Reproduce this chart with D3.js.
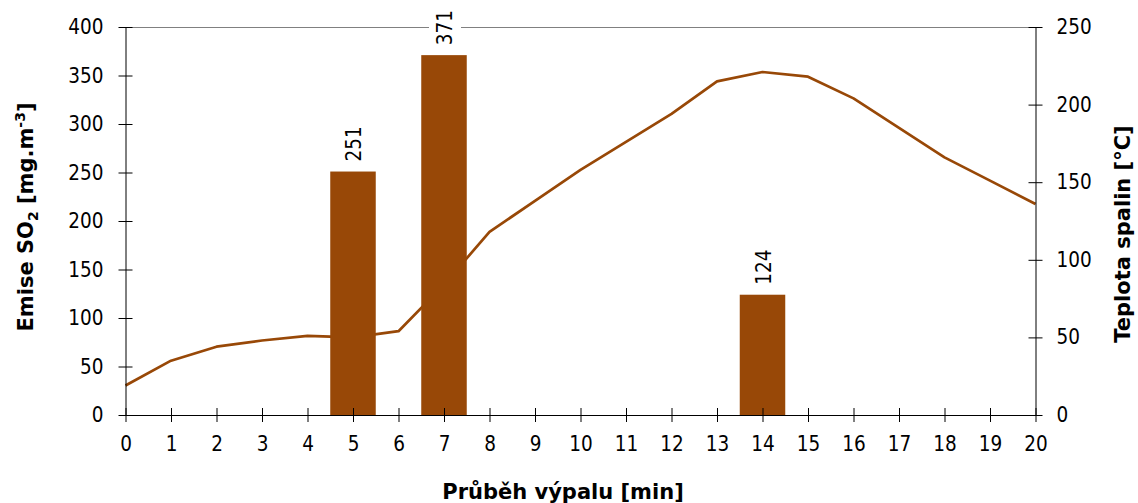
<!DOCTYPE html>
<html>
<head>
<meta charset="utf-8">
<script src="https://cdn.jsdelivr.net/npm/d3@7"></script>
<style>
  body { margin: 0; background: #fff; }
  svg text { font-family: "DejaVu Sans Condensed", "DejaVu Sans", Verdana, sans-serif; }
  svg text.title { font-family: "DejaVu Sans", Verdana, sans-serif; font-weight: bold; }
</style>
</head>
<body>
<svg id="chart"></svg>
<script>
// time axis [min]
const minutes = [0, 1, 2, 3, 4, 5, 6, 7, 8, 9, 10, 11, 12, 13, 14, 15, 16, 17, 18, 19, 20];
// flue gas temperature [°C] (right axis)
const temperature = [19, 35, 44, 48, 51, 50, 54, 84, 118, 138, 158, 176, 194, 215, 221, 218, 204, 185, 166, 151, 136];
// SO2 emission samples [mg.m-3] (left axis)
const emissionMin = [5, 7, 14];
const emission = [251, 371, 124];
const leftTicks = [0, 50, 100, 150, 200, 250, 300, 350, 400];
const rightTicks = [0, 50, 100, 150, 200, 250];

const width = 1138, height = 503;
const brown = '#984807';
const fs = 20.5;   // tick + data labels
const tfs = 21;    // axis titles

const svg = d3.select('#chart').attr('width', width).attr('height', height);

const x = d3.scaleLinear().domain([0, 20]).range([125.5, 1035.5]);
const yL = d3.scaleLinear().domain([0, 400]).range([415, 27]);
const yR = d3.scaleLinear().domain([0, 250]).range([415, 27]);
const barW = x(1) - x(0);

// top border of the plot area
svg.append('line')
    .attr('x1', x(0)).attr('x2', x(20))
    .attr('y1', yL(400) + 0.5).attr('y2', yL(400) + 0.5)
    .attr('stroke', '#808080');

// temperature line
svg.append('path')
    .datum(minutes)
    .attr('fill', 'none')
    .attr('stroke', brown)
    .attr('stroke-width', 2.7)
    .attr('stroke-linejoin', 'round')
    .attr('d', d3.line().x(d => x(d)).y((d, i) => yR(temperature[i])));

// emission bars (drawn over the line like in the original)
svg.append('g')
    .selectAll('rect')
    .data(emission)
    .join('rect')
      .attr('x', (d, i) => x(emissionMin[i]) - barW / 2)
      .attr('width', barW)
      .attr('y', d => yL(d))
      .attr('height', d => yL(0) - yL(d))
      .attr('fill', brown);

// axes
const styleAxis = g => {
    g.attr('font-family', null).attr('font-size', null);
    g.select('.domain').attr('stroke', '#000');
    g.selectAll('.tick line').attr('stroke', '#000');
    g.selectAll('.tick text').attr('font-size', fs).attr('fill', '#000');
};

svg.append('g')
    .attr('transform', `translate(${x(0)},0)`)
    .call(d3.axisLeft(yL).tickValues(leftTicks).tickSizeInner(7).tickSizeOuter(0).tickPadding(15))
    .call(styleAxis)
    .call(g => g.selectAll('.tick line').attr('x1', 7));

svg.append('g')
    .attr('transform', `translate(${x(20)},0)`)
    .call(d3.axisRight(yR).tickValues(rightTicks).tickSizeInner(7).tickSizeOuter(0).tickPadding(14))
    .call(styleAxis)
    .call(g => g.selectAll('.tick line').attr('x1', -7));

svg.append('g')
    .attr('transform', `translate(0,${yL(0)})`)
    .call(d3.axisBottom(x).tickValues(minutes).tickFormat(d3.format('d')).tickSizeInner(7).tickSizeOuter(0).tickPadding(14))
    .call(styleAxis)
    .call(g => g.selectAll('.tick line').attr('y1', -7));

// bar value labels, rotated, with white box behind
const labels = svg.append('g')
    .selectAll('g')
    .data(emission)
    .join('g')
      .attr('transform', (d, i) => `translate(${x(emissionMin[i]) + 1},${yL(d) - 10}) rotate(-90)`);

labels.append('rect')
    .attr('x', -2).attr('y', -16)
    .attr('width', 40).attr('height', 32)
    .attr('fill', '#fff');

labels.append('text')
    .attr('x', 0).attr('y', 0)
    .attr('dy', '0.35em')
    .attr('font-size', fs)
    .attr('fill', '#000')
    .text(d => d)
    .each(function () {
        const bb = this.getBBox();
        d3.select(this.parentNode).select('rect').attr('width', bb.width + 4);
    });

// axis titles
svg.append('text')
    .attr('class', 'title')
    .attr('transform', `translate(33,217) rotate(-90)`)
    .attr('text-anchor', 'middle')
    .attr('font-size', tfs)
    .call(t => {
        t.append('tspan').text('Emise SO');
        t.append('tspan').attr('font-size', 14).attr('dy', 5).text('2');
        t.append('tspan').attr('dy', -5).text(' [mg.m');
        t.append('tspan').attr('font-size', 14).attr('dy', -8).text('-3');
        t.append('tspan').attr('dy', 8).text(']');
    });

svg.append('text')
    .attr('class', 'title')
    .attr('transform', `translate(1130,234) rotate(-90)`)
    .attr('text-anchor', 'middle')
    .attr('font-size', tfs)
    .text('Teplota spalin [°C]');

svg.append('text')
    .attr('class', 'title')
    .attr('x', 563)
    .attr('y', 499)
    .attr('text-anchor', 'middle')
    .attr('font-size', tfs)
    .text('Průběh výpalu [min]');
</script>
</body>
</html>
